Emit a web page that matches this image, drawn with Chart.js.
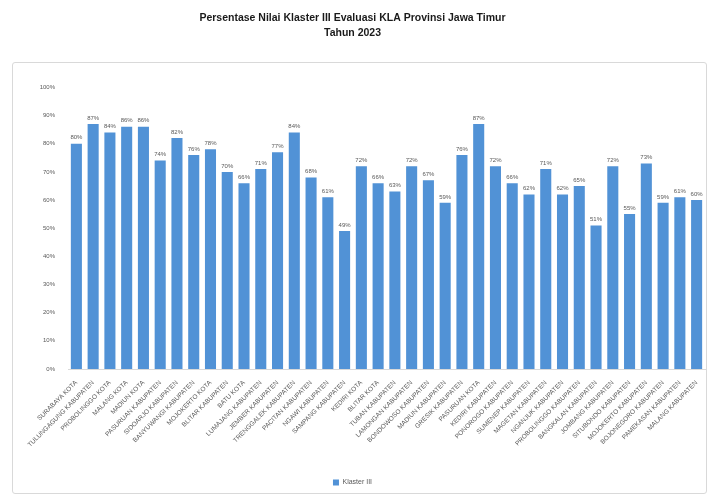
<!DOCTYPE html>
<html>
<head>
<meta charset="utf-8">
<script src="https://cdn.jsdelivr.net/npm/chart.js@4.4.1/dist/chart.umd.min.js"></script>
<style>
  html, body { margin: 0; padding: 0; background: #fff; }
  #wrap { position: relative; width: 711px; height: 498px; }
  #frame {
    position: absolute; left: 12px; top: 62px; width: 695px; height: 432px;
    border: 1px solid #d9d9d9; border-radius: 3px; box-sizing: border-box;
  }
  canvas { position: absolute; left: 0; top: 0; }
</style>
</head>
<body>
<div id="wrap">
  <div id="frame"></div>
  <canvas id="klaster" width="711" height="498"></canvas>
</div>
<script>
const wilayah = [
  'SURABAYA KOTA', 'TULUNGAGUNG KABUPATEN', 'PROBOLINGGO KOTA', 'MALANG KOTA',
  'MADIUN KOTA', 'PASURUAN KABUPATEN', 'SIDOARJO KABUPATEN', 'BANYUWANGI KABUPATEN',
  'MOJOKERTO KOTA', 'BLITAR KABUPATEN', 'BATU KOTA', 'LUMAJANG KABUPATEN',
  'JEMBER KABUPATEN', 'TRENGGALEK KABUPATEN', 'PACITAN KABUPATEN', 'NGAWI KABUPATEN',
  'SAMPANG KABUPATEN', 'KEDIRI KOTA', 'BLITAR KOTA', 'TUBAN KABUPATEN',
  'LAMONGAN KABUPATEN', 'BONDOWOSO KABUPATEN', 'MADIUN KABUPATEN', 'GRESIK KABUPATEN',
  'PASURUAN KOTA', 'KEDIRI KABUPATEN', 'PONOROGO KABUPATEN', 'SUMENEP KABUPATEN',
  'MAGETAN KABUPATEN', 'NGANJUK KABUPATEN', 'PROBOLINGGO KABUPATEN', 'BANGKALAN KABUPATEN',
  'JOMBANG KABUPATEN', 'SITUBONDO KABUPATEN', 'MOJOKERTO KABUPATEN', 'BOJONEGORO KABUPATEN',
  'PAMEKASAN KABUPATEN', 'MALANG KABUPATEN'
];

// persen nilai klaster III per kab/kota
const nilaiKlaster3 = [
  80, 87, 84, 86, 86, 74, 82, 76, 78, 70, 66, 71, 77, 84, 68, 61, 49, 72, 66,
  63, 72, 67, 59, 76, 87, 72, 66, 62, 71, 62, 65, 51, 72, 55, 73, 59, 61, 60
];

const yTicks = [0, 10, 20, 30, 40, 50, 60, 70, 80, 90, 100];

const barColor = '#5192d6';
const textGrey = '#595959';

// angka persen di atas tiap batang
const barValueLabels = {
  id: 'barValueLabels',
  afterDatasetsDraw(chart) {
    const { ctx } = chart;
    ctx.save();
    ctx.font = '6px "Liberation Sans", Arial, sans-serif';
    ctx.fillStyle = textGrey;
    ctx.textAlign = 'center';
    ctx.textBaseline = 'bottom';
    chart.getDatasetMeta(0).data.forEach((bar, i) => {
      ctx.fillText(nilaiKlaster3[i] + '%', bar.x, bar.y - 3);
    });
    ctx.restore();
  }
};

new Chart(document.getElementById('klaster'), {
  type: 'bar',
  data: {
    labels: wilayah,
    datasets: [{
      label: 'Klaster III',
      data: nilaiKlaster3,
      backgroundColor: barColor,
      borderWidth: 0,
      categoryPercentage: 1,
      barPercentage: 0.66
    }]
  },
  options: {
    responsive: false,
    animation: false,
    layout: { padding: { left: 0, right: 6, top: 0, bottom: 2 } },
    plugins: {
      title: {
        display: true,
        text: ['Persentase Nilai Klaster III Evaluasi KLA Provinsi Jawa Timur', 'Tahun 2023'],
        color: '#1a1a1a',
        font: { family: '"Liberation Sans", Arial, sans-serif', size: 10.5, weight: 'bold', lineHeight: 1.4 },
        padding: { top: 11, bottom: 47 }
      },
      legend: {
        position: 'bottom',
        labels: {
          color: textGrey,
          font: { family: '"Liberation Sans", Arial, sans-serif', size: 7 },
          boxWidth: 6,
          boxHeight: 6,
          padding: 10
        }
      },
      tooltip: { enabled: false }
    },
    scales: {
      x: {
        grid: { display: false },
        border: { color: '#d9d9d9' },
        ticks: {
          color: textGrey,
          font: { family: '"Liberation Sans", Arial, sans-serif', size: 6.5 },
          minRotation: 45,
          maxRotation: 45,
          autoSkip: false,
          padding: 2
        },
        afterFit(scale) { scale.height = 100; }
      },
      y: {
        min: 0,
        max: 100,
        grid: { display: false, drawTicks: false },
        border: { display: false },
        afterBuildTicks(scale) { scale.ticks = yTicks.map(v => ({ value: v })); },
        ticks: {
          color: textGrey,
          font: { family: '"Liberation Sans", Arial, sans-serif', size: 6 },
          padding: 13,
          callback: v => v + '%'
        },
        afterFit(scale) { scale.width = 68; }
      }
    }
  },
  plugins: [barValueLabels]
});
</script>
</body>
</html>
